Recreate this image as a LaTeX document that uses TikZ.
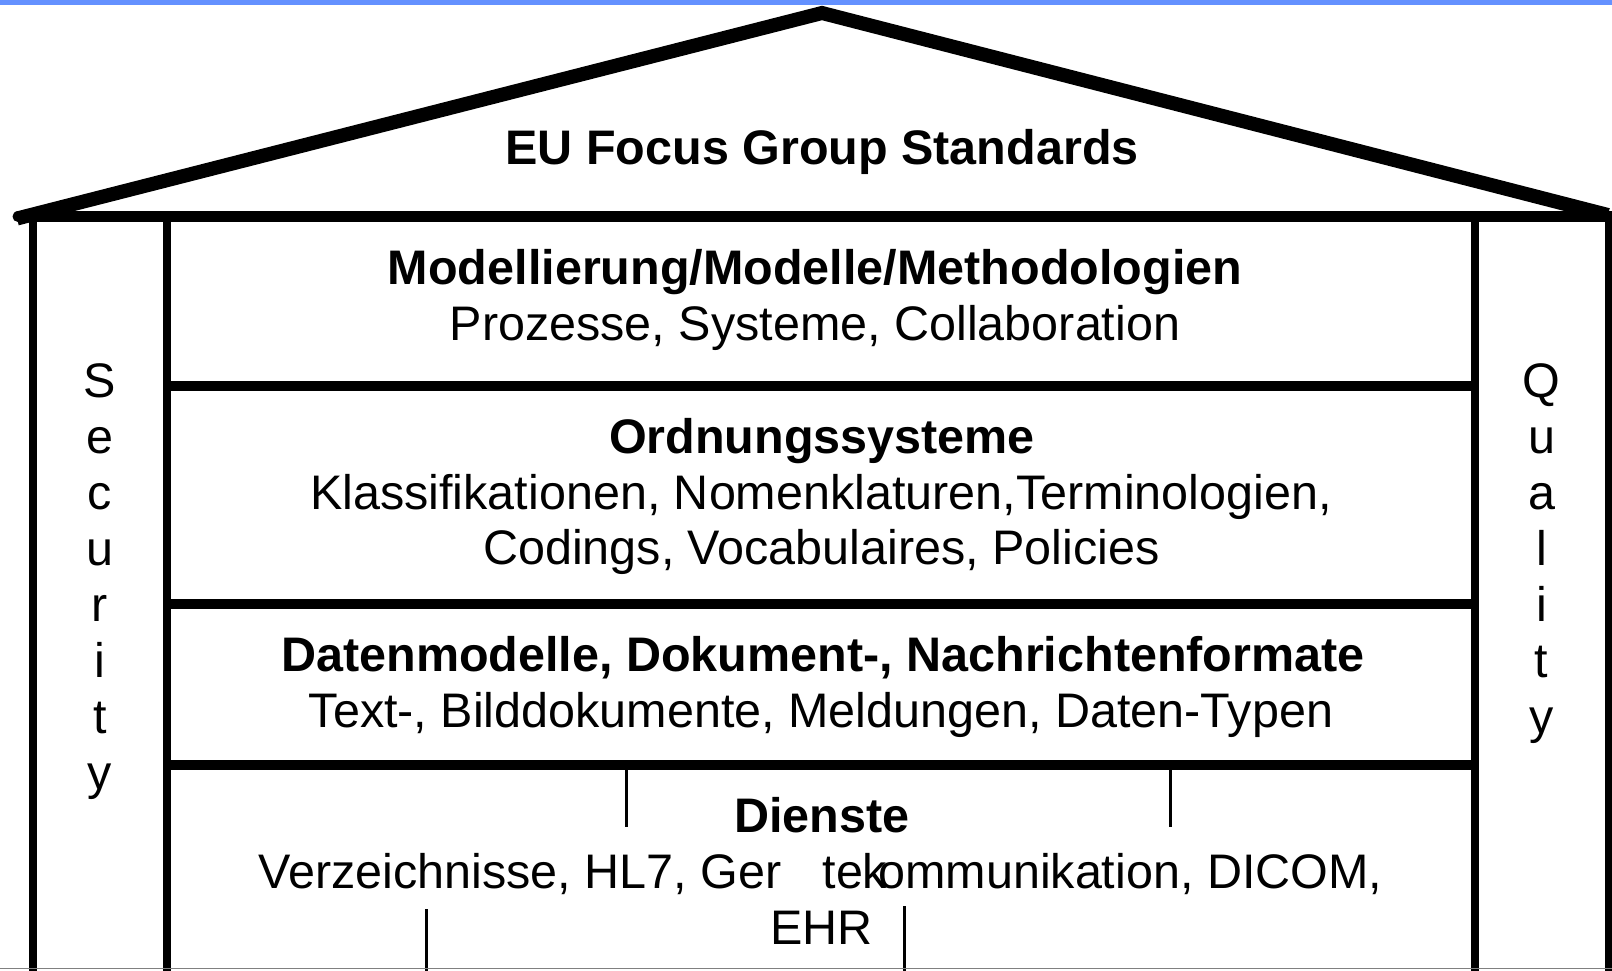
\documentclass[tikz,border=0pt]{standalone}
\usepackage{fontspec}
\setmainfont{Liberation Sans}
\definecolor{topblue}{RGB}{100,145,255}
\begin{document}
\begin{tikzpicture}[x=1pt,y=-1pt,
  txt/.style={anchor=base,inner sep=0pt,font=\fontsize{48.5}{56}\selectfont},
  hd/.style={anchor=base,inner sep=0pt,font=\fontsize{48.5}{56}\selectfont\bfseries},
  roof/.style={line width=14pt,line join=miter},
  beam/.style={line width=11pt,line cap=round},
  wall/.style={line width=8pt},
  sep/.style={line width=10pt},
  tick/.style={line width=3pt}]
\useasboundingbox (0,0) rectangle (1612,970);
\fill[topblue] (0,0) rectangle (1612,4.5);
% roof and beam
\draw[roof] (17,218.5) -- (822,13) -- (1608,215);
\draw[beam] (18,216.5) -- (1612,216.5);
% walls
\draw[wall] (33,216) -- (33,975);
\draw[wall] (167,216) -- (167,975);
\draw[wall] (1474.5,216) -- (1474.5,975);
\draw[wall] (1608.5,212) -- (1608.5,975);
% layer separators
\draw[sep] (167,385.5) -- (1474.5,385.5);
\draw[sep] (167,604) -- (1474.5,604);
\draw[sep] (167,764.5) -- (1474.5,764.5);
% small ticks in Dienste
\draw[tick] (626.7,769) -- (626.7,827);
\draw[tick] (1170,769) -- (1170,827);
\draw[tick] (426,909) -- (426,975);
\draw[tick] (904,906) -- (904,975);
% bottom edge
\draw[gray,line width=1.5pt] (0,968.5) -- (1612,968.5);
% texts
\node[hd] (eu) at (822,164.5) {EU Focus Group Standards};
\node[hd] (mod) at (815,284.8) {Modellierung/Modelle/Methodologien};
\node[txt] (proz) at (815,340.5) {Prozesse, Systeme, Collaboration};
\node[hd] (ord) at (822,453) {Ordnungssysteme};
\node[txt] (klass) at (821,509) {Klassifikationen, Nomenklaturen,Terminologien,};
\node[txt] (cod) at (821.5,564.5) {Codings, Vocabulaires, Policies};
\node[hd] (dat) at (823,671) {Datenmodelle, Dokument-, Nachrichtenformate};
\node[txt] (text) at (821,727) {Text-, Bilddokumente, Meldungen, Daten-Typen};
\node[hd] (dien) at (822,832) {Dienste};
\node[txt] (verz) at (820.5,888) {Verzeichnisse, HL7, Ger\hspace{41pt}tek\kern-9pt ommunikation, DICOM,};
\node[txt] (ehr) at (821.5,944.5) {EHR};
% Security
\foreach \l [count=\i from 0] in {S,e,c,u,r,i,t,y}
  \node[txt] (sec\i) at (100,397+56*\i) {\l};
% Quality
\foreach \l [count=\i from 0] in {Q,u,a,l,i,t,y}
  \node[txt] (qual\i) at (1541.5,397+56*\i) {\l};
\end{tikzpicture}
\end{document}
